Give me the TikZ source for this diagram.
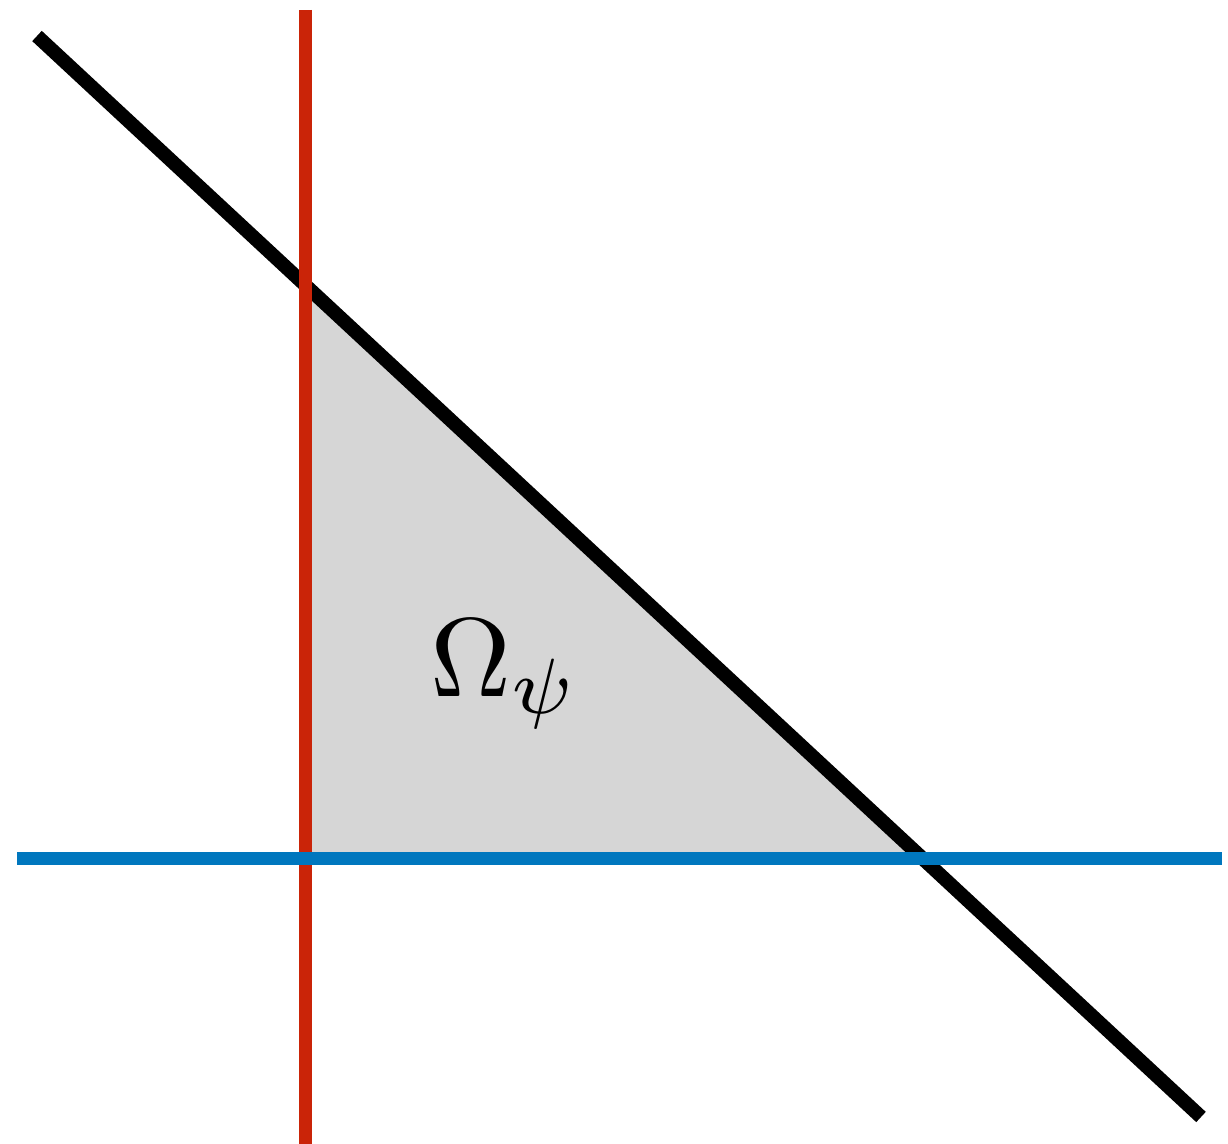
\documentclass[tikz,border=0pt]{standalone}
\usetikzlibrary{calc}
\definecolor{regiongray}{RGB}{214,214,214}
\definecolor{redline}{RGB}{202,36,8}
\definecolor{blueline}{RGB}{0,119,190}
\begin{document}
\begin{tikzpicture}[x=0.5pt,y=-0.5pt,
  diag/.style={line width=7pt, black},
  vline/.style={line width=6.2pt, redline},
  hline/.style={line width=6.3pt, blueline}]
\useasboundingbox (0,0) rectangle (1228,1144);
\coordinate (d1) at (37,36);
\coordinate (d2) at (1201,1117);
\coordinate (v1) at (305.5,10);
\coordinate (v2) at (305.5,1150);
\coordinate (h1) at (17,858.7);
\coordinate (h2) at (1222,858.7);
\coordinate (t1) at (305.5,285.3);
\coordinate (t2) at (305.5,858.7);
\coordinate (t3) at (922.9,858.7);
\fill[regiongray] (t1) -- (t2) -- (t3) -- cycle;
\node[anchor=base west, inner sep=0pt, font=\normalsize, scale=5.6] (lab) at (428,697) {$\Omega_\psi$};
\draw[diag] (d1) -- (d2);
\draw[vline] (v1) -- (v2);
\draw[hline] (h1) -- (h2);
\end{tikzpicture}
\end{document}
